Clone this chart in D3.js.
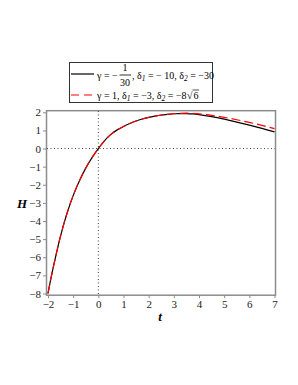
<!DOCTYPE html>
<html>
<head>
<meta charset="utf-8">
<script src="https://cdn.jsdelivr.net/npm/d3@7"></script>
<style>
  body { margin: 0; background: #fff; }
  svg { display: block; }
  svg text { font-family: "Liberation Serif", "DejaVu Serif", serif; }
</style>
</head>
<body>
<div id="chart"></div>
<script>
const tValues = [-2, -1.9, -1.75, -1.5, -1.25, -1, -0.75, -0.5, -0.25, 0, 0.25, 0.5, 0.75, 1, 1.25, 1.5, 1.75, 2, 2.25, 2.5, 2.75, 3, 3.25, 3.5, 3.75, 4, 4.5, 5, 5.5, 6, 6.5, 7];
const hBlack = [-8, -7.28, -6.3, -4.82, -3.6, -2.6, -1.78, -1.08, -0.5, 0, 0.44, 0.78, 1.03, 1.22, 1.38, 1.52, 1.63, 1.72, 1.79, 1.85, 1.89, 1.92, 1.93, 1.93, 1.91, 1.87, 1.76, 1.62, 1.46, 1.29, 1.11, 0.92];
const hRed = [-8, -7.28, -6.3, -4.82, -3.6, -2.6, -1.78, -1.08, -0.5, 0, 0.44, 0.78, 1.03, 1.22, 1.38, 1.52, 1.63, 1.72, 1.79, 1.85, 1.89, 1.92, 1.94, 1.95, 1.94, 1.91, 1.83, 1.72, 1.59, 1.44, 1.28, 1.10];
const xTicks = [-2, -1, 0, 1, 2, 3, 4, 5, 6, 7];
const yTicks = [-8, -7, -6, -5, -4, -3, -2, -1, 0, 1, 2];

const width = 298, height = 385;

const svg = d3.select('#chart').append('svg')
  .attr('width', width)
  .attr('height', height)
  .attr('viewBox', [0, 0, width, height]);

const x = d3.scaleLinear().domain([-2, 7]).range([48, 274.5]);
const y = d3.scaleLinear().domain([-8, 2]).range([293.5, 112.3]);

// frame
svg.append('rect')
  .attr('x', 46.5).attr('y', 110.7)
  .attr('width', 229).attr('height', 184.5)
  .attr('fill', 'none')
  .attr('stroke', '#8c8c8c')
  .attr('stroke-width', 1.5);

// axes (ticks + labels only)
svg.append('g')
  .attr('transform', 'translate(0,295.2)')
  .call(d3.axisBottom(x).tickValues(xTicks).tickSize(3).tickPadding(2))
  .call(g => g.attr('font-family', null))
  .call(g => g.select('.domain').remove())
  .call(g => g.selectAll('line').attr('stroke', '#8c8c8c'))
  .call(g => g.selectAll('text').attr('font-size', 11).attr('fill', '#222'));

svg.append('g')
  .attr('transform', 'translate(46,0)')
  .call(d3.axisLeft(y).tickValues(yTicks).tickSize(3).tickPadding(2))
  .call(g => g.attr('font-family', null))
  .call(g => g.select('.domain').remove())
  .call(g => g.selectAll('line').attr('stroke', '#8c8c8c'))
  .call(g => g.selectAll('text').attr('font-size', 11).attr('fill', '#222'));

// dotted reference lines
svg.append('line')
  .attr('x1', 47).attr('x2', 275)
  .attr('y1', y(0)).attr('y2', y(0))
  .attr('stroke', '#444').attr('stroke-dasharray', '1,2.5');
svg.append('line')
  .attr('x1', x(0)).attr('x2', x(0))
  .attr('y1', 111).attr('y2', 294.5)
  .attr('stroke', '#444').attr('stroke-dasharray', '1,2.5');

// curves
const line = d3.line()
  .x((d, i) => x(tValues[i]))
  .y(d => y(d))
  .curve(d3.curveCatmullRom);

svg.append('path')
  .datum(hBlack)
  .attr('d', line)
  .attr('fill', 'none')
  .attr('stroke', '#000')
  .attr('stroke-width', 1.2);

svg.append('path')
  .datum(hRed)
  .attr('d', line)
  .attr('fill', 'none')
  .attr('stroke', '#ff0000')
  .attr('stroke-width', 1.2)
  .attr('stroke-dasharray', '9,4');

// axis titles
svg.append('text')
  .attr('x', 22).attr('y', 208)
  .attr('text-anchor', 'middle')
  .attr('font-size', 13)
  .attr('font-weight', 'bold').attr('font-style', 'italic')
  .text('H');
svg.append('text')
  .attr('x', 160).attr('y', 321)
  .attr('text-anchor', 'middle')
  .attr('font-size', 13)
  .attr('font-weight', 'bold').attr('font-style', 'italic')
  .text('t');

// legend
const legend = svg.append('g')
  .attr('font-size', 10).attr('fill', '#000');

legend.append('rect')
  .attr('x', 69.5).attr('y', 62.5)
  .attr('width', 143).attr('height', 40)
  .attr('fill', '#fff')
  .attr('stroke', '#333').attr('stroke-width', 1);

legend.append('line')
  .attr('x1', 71).attr('x2', 94).attr('y1', 74).attr('y2', 74)
  .attr('stroke', '#000').attr('stroke-width', 1.2);
legend.append('line')
  .attr('x1', 71).attr('x2', 94).attr('y1', 95).attr('y2', 95)
  .attr('stroke', '#ff0000').attr('stroke-width', 1.2)
  .attr('stroke-dasharray', '8,5');

const sub = (sel, s) => sel.append('tspan')
  .attr('font-size', 7.5).attr('font-style', 'italic').attr('dy', 2).text(s);

// line 1: gamma = -1/30
legend.append('text').attr('x', 97).attr('y', 78.5).text('γ = −');
legend.append('text').attr('x', 125).attr('y', 71).attr('text-anchor', 'middle').text('1');
legend.append('line')
  .attr('x1', 119.5).attr('x2', 131).attr('y1', 75).attr('y2', 75)
  .attr('stroke', '#000').attr('stroke-width', 0.8);
legend.append('text').attr('x', 125).attr('y', 86).attr('text-anchor', 'middle').text('30');
const t1 = legend.append('text').attr('x', 132).attr('y', 78.5);
t1.append('tspan').text(', δ');
sub(t1, '1');
t1.append('tspan').attr('dy', -2).text(' = − 10, δ');
sub(t1, '2');
t1.append('tspan').attr('dy', -2).text(' = −30');

// line 2
const t2 = legend.append('text').attr('x', 97).attr('y', 98.5);
t2.append('tspan').text('γ = 1, δ');
sub(t2, '1');
t2.append('tspan').attr('dy', -2).text(' = −3, δ');
sub(t2, '2');
t2.append('tspan').attr('dy', -2).text(' = −8');
const sqrtStart = 97 + t2.node().getComputedTextLength() + 0.5;
legend.append('text').attr('x', sqrtStart).attr('y', 99).text('√');
legend.append('line')
  .attr('x1', sqrtStart + 5.5).attr('x2', sqrtStart + 12)
  .attr('y1', 90).attr('y2', 90)
  .attr('stroke', '#000').attr('stroke-width', 0.7);
legend.append('text').attr('x', sqrtStart + 6.5).attr('y', 98.5).text('6');
</script>
</body>
</html>
